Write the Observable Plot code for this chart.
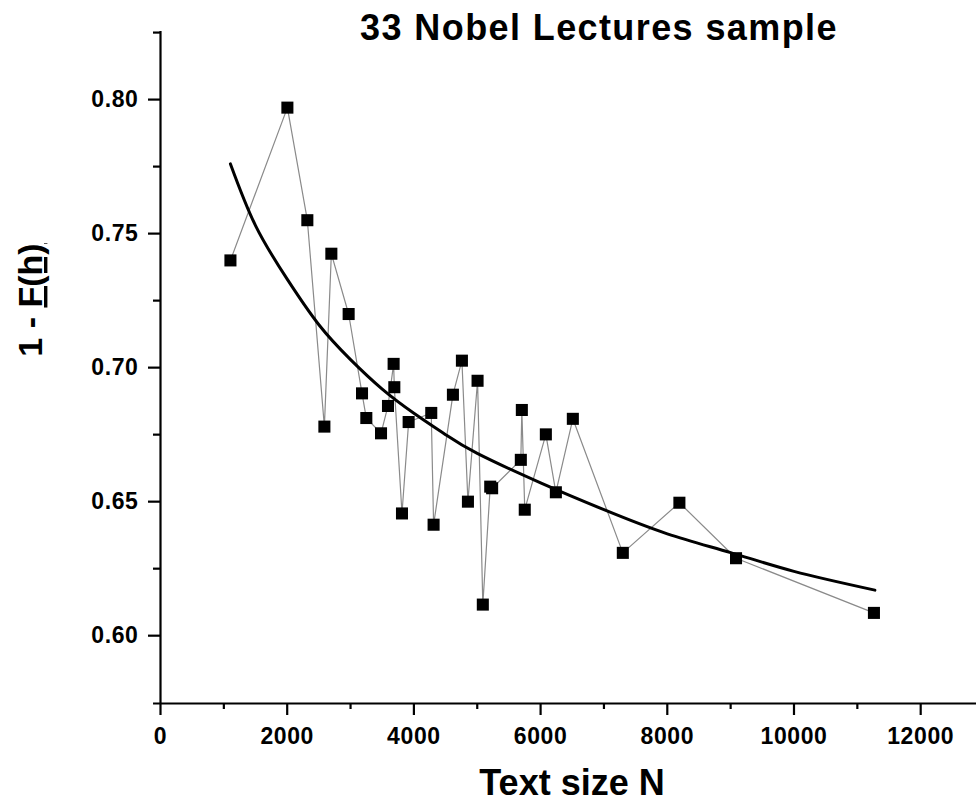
<!DOCTYPE html>
<html><head><meta charset="utf-8">
<script src="https://cdn.jsdelivr.net/npm/d3@7"></script>
<script src="https://cdn.jsdelivr.net/npm/@observablehq/plot@0.6"></script>
<style>
body{margin:0;background:#fff;}
#chart{width:976px;height:805px;}
</style>
</head><body><div id="chart"></div>
<script>
// Data
const textSize = [1104, 2003, 2318, 2587, 2697, 2970, 3181, 3249, 3481, 3591, 3680, 3691, 3812, 3917, 4274, 4311, 4616, 4758, 4853, 5005, 5088, 5205, 5235, 5688, 5704, 5750, 6083, 6241, 6509, 7298, 8191, 9085, 11262];
const oneMinusF = [0.740, 0.797, 0.755, 0.678, 0.7425, 0.720, 0.6904, 0.6812, 0.6755, 0.6857, 0.7014, 0.6927, 0.6456, 0.6797, 0.6831, 0.6414, 0.6899, 0.7026, 0.650, 0.6951, 0.6116, 0.6556, 0.6550, 0.6656, 0.6842, 0.647, 0.6751, 0.6535, 0.6809, 0.6309, 0.6496, 0.6289, 0.6085];
const fitN = [1104, 1500, 2000, 2500, 3000, 3500, 4000, 4500, 5000, 6000, 7000, 8000, 9000, 10000, 11277];
const fitValue = [0.776, 0.753, 0.733, 0.716, 0.703, 0.692, 0.683, 0.675, 0.668, 0.657, 0.647, 0.638, 0.631, 0.624, 0.617];
const xTicks = [0, 2000, 4000, 6000, 8000, 10000, 12000];
const xMinorTicks = [1000, 3000, 5000, 7000, 9000, 11000];
const yTicks = [0.60, 0.65, 0.70, 0.75, 0.80];
const yMinorTicks = [0.625, 0.675, 0.725, 0.775, 0.825];
const titleText = "33 Nobel Lectures sample";
const xLabel = "Text size N";
const yLabelPrefix = "1 - ";
const yLabelUnderlined = "F(h)";

const points = textSize.map((n, i) => ({n, v: oneMinusF[i]}));
const fit = fitN.map((n, i) => ({n, v: fitValue[i]}));

const xDomain = [0, 12881];
const yDomain = [0.5747, 0.8254];

const plot = Plot.plot({
  width: 976,
  height: 805,
  marginLeft: 160,
  marginRight: 0,
  marginTop: 31,
  marginBottom: 102,
  style: {fontFamily: "'Liberation Sans', Arial, sans-serif", fontWeight: "bold", fontSize: "23px", background: "#fff", color: "#000"},
  x: {domain: xDomain},
  y: {domain: yDomain},
  marks: [
    Plot.ruleY([yDomain[0]], {x1: -110, x2: xDomain[1], stroke: "#000", strokeWidth: 2.2}),
    Plot.ruleX([0], {stroke: "#000", strokeWidth: 2.2}),
    Plot.axisX({ticks: xTicks, tickSize: 12, tickPadding: 12, tickFormat: d3.format("d"), strokeWidth: 2.2, label: null}),
    Plot.axisX({ticks: xMinorTicks, tickSize: 6, tickFormat: () => "", strokeWidth: 2.2, label: null}),
    Plot.axisY({ticks: yTicks, tickSize: 12, tickPadding: 10, tickFormat: d3.format(".2f"), strokeWidth: 2.2, label: null}),
    Plot.axisY({ticks: yMinorTicks, tickSize: 7, tickFormat: () => "", strokeWidth: 2.2, label: null}),
    Plot.line(points, {x: "n", y: "v", stroke: "#8a8a8a", strokeWidth: 1.2}),
    Plot.line(fit, {x: "n", y: "v", stroke: "#000", strokeWidth: 3, curve: "natural"}),
    Plot.dot(points, {x: "n", y: "v", symbol: "square", r: 6.8, fill: "#000", stroke: "none"})
  ]
});

const svg = d3.select(plot);
svg.selectAll("g[aria-label='y-axis tick label'] text, g[aria-label='x-axis tick label'] text")
  .style("letter-spacing", "0.6px");

svg.append("text")
  .attr("x", 599).attr("y", 40)
  .attr("text-anchor", "middle")
  .style("font-size", "36px").style("font-weight", "bold").style("letter-spacing", "1.4px")
  .text(titleText);

svg.append("text")
  .attr("x", 572).attr("y", 795)
  .attr("text-anchor", "middle")
  .style("font-size", "36px").style("font-weight", "bold")
  .text(xLabel);

const yt = svg.append("text")
  .attr("transform", "translate(42,300) rotate(-90)")
  .attr("text-anchor", "middle")
  .style("font-size", "34px").style("font-weight", "bold");
yt.append("tspan").text(yLabelPrefix);
yt.append("tspan").style("text-decoration", "underline").text(yLabelUnderlined);

document.getElementById("chart").appendChild(plot);
</script>
</body></html>
